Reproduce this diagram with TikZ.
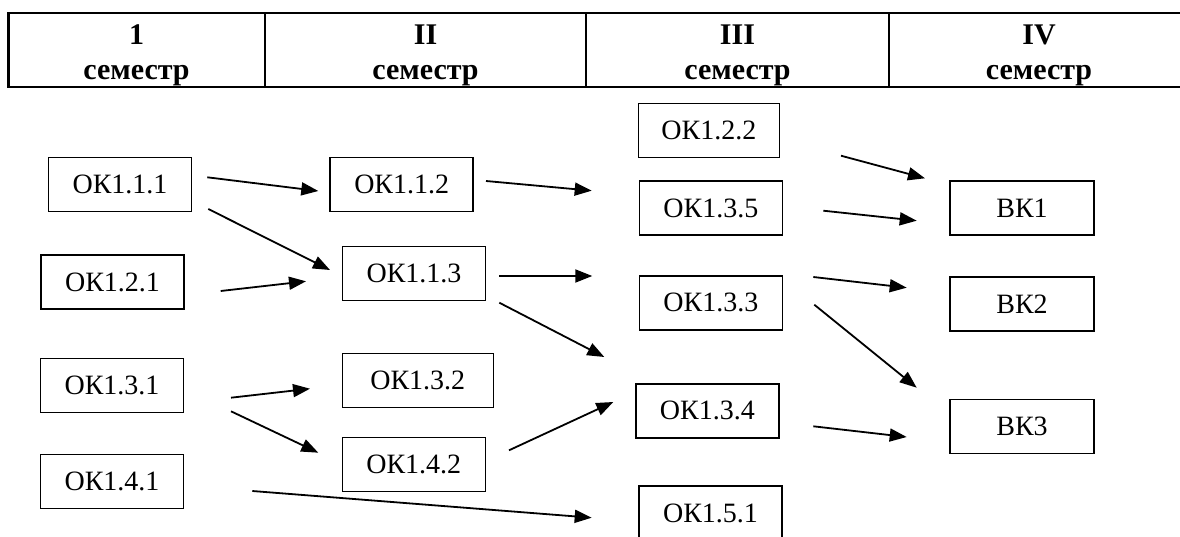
\documentclass[tikz,border=0pt]{standalone}
\usepackage{fontspec}
\setmainfont{Liberation Serif}
\usetikzlibrary{arrows.meta}
\begin{document}
\begin{tikzpicture}[
x=1pt, y=-1pt,
course/.style={rectangle, draw=black, line width=1.6pt, inner sep=0pt, minimum width=143pt, minimum height=54pt, font=\fontsize{28}{32}\selectfont},
semnum/.style={anchor=base, inner sep=0pt, font=\bfseries\fontsize{30}{34}\selectfont},
semword/.style={anchor=base, inner sep=0pt, font=\bfseries\fontsize{30}{34}\selectfont},
headline/.style={draw=black, line width=2.4pt},
link/.style={line width=1.8pt, -{Triangle[length=17pt, width=13pt]}},
]
\useasboundingbox (0,0) rectangle (1180,537);
\draw[headline] (8.3,13.3) rectangle (1189,87.3);
\foreach \x in {265,586,889}
    \draw[headline] (\x,13.3) -- (\x,87.3);
\foreach \num/\cx [count=\i] in {1/136.5, II/425.5, III/737.5, IV/1039}{
    \node[semnum] (n\i) at (\cx,45) {\num};
    \node[semword] (s\i) at (\cx,80) {семестр};
}
\node[course] (k111) at (120,184.5) {ОК1.1.1};
\node[course] (k121) at (112.5,282) {ОК1.2.1};
\node[course] (k131) at (112,385.3) {ОК1.3.1};
\node[course] (k141) at (112,481.3) {ОК1.4.1};
\node[course] (k112) at (401.7,184.5) {ОК1.1.2};
\node[course] (k113) at (414,273.5) {ОК1.1.3};
\node[course, minimum width=151pt] (k132) at (417.8,380.3) {ОК1.3.2};
\node[course] (k142) at (413.8,464.3) {ОК1.4.2};
\node[course, minimum width=141pt] (k122) at (708.8,130.7) {ОК1.2.2};
\node[course] (k135) at (710.8,208.3) {ОК1.3.5};
\node[course] (k133) at (710.8,302.8) {ОК1.3.3};
\node[course] (k134) at (707.3,410.7) {ОК1.3.4};
\node[course] (k151) at (710.5,513) {ОК1.5.1};
\node[course, minimum width=144pt] (v1) at (1022,208) {ВК1};
\node[course, minimum width=144pt] (v2) at (1022,304) {ВК2};
\node[course, minimum width=144pt] (v3) at (1022,426.5) {ВК3};
\coordinate (a1s) at (207.3,177.3);  \coordinate (a1e) at (318.3,191);
\coordinate (a2s) at (208.3,209);    \coordinate (a2e) at (330,270);
\coordinate (a3s) at (220.7,291);    \coordinate (a3e) at (306,281.3);
\coordinate (a4s) at (486,181);      \coordinate (a4e) at (591.7,190.7);
\coordinate (a5s) at (499.3,276);    \coordinate (a5e) at (592.3,276);
\coordinate (a6s) at (499.3,302.7);  \coordinate (a6e) at (604.3,357);
\coordinate (a7s) at (231,397.7);    \coordinate (a7e) at (310,388.7);
\coordinate (a8s) at (231,411.3);    \coordinate (a8e) at (318.3,452.7);
\coordinate (a9s) at (509,450.3);    \coordinate (a9e) at (613.3,402);
\coordinate (a10s) at (252.3,491);   \coordinate (a10e) at (591.7,517.7);
\coordinate (a11s) at (841,155.7);   \coordinate (a11e) at (925,178.3);
\coordinate (a12s) at (823.3,210.7); \coordinate (a12e) at (916.7,220.7);
\coordinate (a13s) at (813.3,277);   \coordinate (a13e) at (906.7,287.7);
\coordinate (a14s) at (814.3,304.7); \coordinate (a14e) at (916.7,387.7);
\coordinate (a15s) at (813.3,426.3); \coordinate (a15e) at (906.7,437);
\foreach \i in {1,...,15}
    \draw[link] (a\i s) -- (a\i e);
\end{tikzpicture}
\end{document}
